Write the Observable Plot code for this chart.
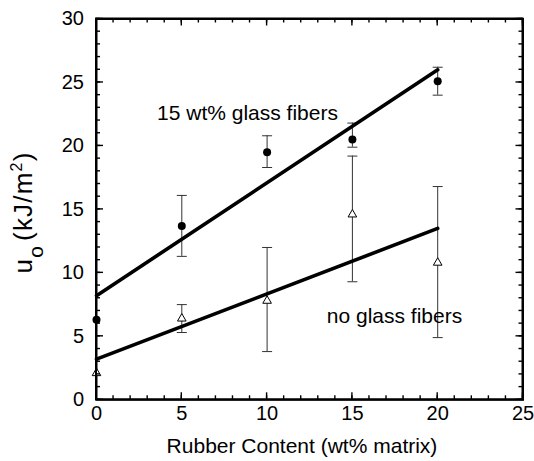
<!DOCTYPE html>
<html>
<head>
<meta charset="utf-8">
<script src="https://cdn.jsdelivr.net/npm/d3@7"></script>
<script src="https://cdn.jsdelivr.net/npm/@observablehq/plot@0.6"></script>
<style>
  html, body { margin: 0; padding: 0; background: #fff; }
  #chart svg { display: block; }
</style>
</head>
<body>
<div id="chart"></div>
<script>
// Rubber content (wt% matrix)
const rubber = [0, 5, 10, 15, 20];

// 15 wt% glass fibers (filled circles)
const glassMean = [6.3, 13.7, 19.5, 20.5, 25.1];
const glassLow  = [null, 11.3, 18.3, 19.9, 24.0];
const glassHigh = [null, 16.1, 20.8, 21.8, 26.2];

// no glass fibers (open triangles)
const noneMean = [2.1, 6.4, 7.8, 14.6, 10.8];
const noneLow  = [null, 5.3, 3.8, 9.3, 4.9];
const noneHigh = [null, 7.5, 12.0, 19.2, 16.8];

// fitted lines (end points)
const fitX = [0, 20];
const fitGlass = [8.2, 26.0];
const fitNone = [3.2, 13.5];

// ticks
const xMajor = [0, 5, 10, 15, 20, 25];
const yMajor = [0, 5, 10, 15, 20, 25, 30];
const xMinor = d3.range(0, 26);
const yMinor = d3.range(0, 31);

(function () {
const X0 = 0, X1 = 25, Y0 = 0, Y1 = 30;

const glass = rubber.map((x, i) => ({x, y: glassMean[i], lo: glassLow[i], hi: glassHigh[i]}));
const none = rubber.map((x, i) => ({x, y: noneMean[i], lo: noneLow[i], hi: noneHigh[i]}));
const errs = [...glass, ...none].filter(d => d.lo != null);
const caps = errs.flatMap(d => [{x: d.x, y: d.lo}, {x: d.x, y: d.hi}]);
const fitG = fitX.map((x, i) => ({x, y: fitGlass[i]}));
const fitN = fitX.map((x, i) => ({x, y: fitNone[i]}));

const capSymbol = {draw(ctx) { ctx.moveTo(-5, 0); ctx.lineTo(5, 0); }};

const W = 534, H = 461;
const mL = 96, mR = 11.5, mT = 18.5, mB = 61.7;

const font = "Liberation Sans, Arial, Helvetica, sans-serif";

const plot = Plot.plot({
  width: W,
  height: H,
  marginLeft: mL,
  marginRight: mR,
  marginTop: mT,
  marginBottom: mB,
  style: {fontFamily: font, fontSize: "20px"},
  x: {domain: [X0, X1]},
  y: {domain: [Y0, Y1]},
  marks: [
    // error bars
    Plot.ruleX(errs, {x: "x", y1: "lo", y2: "hi", stroke: "#333", strokeWidth: 1}),
    Plot.dot(caps, {x: "x", y: "y", symbol: capSymbol, stroke: "#333", strokeWidth: 1, fill: "none"}),
    // fits
    Plot.line(fitG, {x: "x", y: "y", stroke: "black", strokeWidth: 3.6}),
    Plot.line(fitN, {x: "x", y: "y", stroke: "black", strokeWidth: 3.6}),
    // frame
    Plot.frame({stroke: "black", strokeWidth: 2}),
    // points
    Plot.dot(glass, {x: "x", y: "y", r: 4, fill: "black", stroke: "none"}),
    Plot.dot(none, {x: "x", y: "y", r: 3.2, symbol: "triangle", fill: "white", stroke: "black", strokeWidth: 1}),
    // annotations
    Plot.text(["15 wt% glass fibers"], {x: 3.55, y: 22.6, text: d => d, textAnchor: "start", fontSize: 21, fill: "black"}),
    Plot.text(["no glass fibers"], {x: 13.5, y: 6.6, text: d => d, textAnchor: "start", fontSize: 21, fill: "black"}),
    // tick labels
    Plot.axisX(xMajor, {anchor: "bottom", tickSize: 0, tickPadding: 5.5, label: null, fontSize: 20, fill: "black"}),
    Plot.axisY(yMajor, {anchor: "left", tickSize: 0, tickPadding: 12.5, label: null, fontSize: 20, fill: "black"})
  ]
});

const svg = d3.select(plot);
const sx = plot.scale("x"), sy = plot.scale("y");
const pLeft = sx.apply(X0), pRight = sx.apply(X1), pBottom = sy.apply(Y0), pTop = sy.apply(Y1);

// inward ticks on all four sides, placed through Plot's scales
const tg = svg.append("g").attr("stroke", "black").attr("stroke-width", 1.4);
function addX(vals, len) {
  for (const v of vals) {
    const px = sx.apply(v);
    tg.append("line").attr("x1", px).attr("x2", px).attr("y1", pBottom).attr("y2", pBottom - len);
    tg.append("line").attr("x1", px).attr("x2", px).attr("y1", pTop).attr("y2", pTop + len);
  }
}
function addY(vals, len) {
  for (const v of vals) {
    const py = sy.apply(v);
    tg.append("line").attr("y1", py).attr("y2", py).attr("x1", pLeft).attr("x2", pLeft + len);
    tg.append("line").attr("y1", py).attr("y2", py).attr("x1", pRight).attr("x2", pRight - len);
  }
}
addX(xMinor, 4); addY(yMinor, 4);
addX(xMajor, 7); addY(yMajor, 7);
tg.append("rect").attr("x", pLeft).attr("y", pTop).attr("width", pRight - pLeft).attr("height", pBottom - pTop)
  .attr("fill", "none").attr("stroke-width", 2);

// x-axis title
svg.append("text")
  .attr("x", 302).attr("y", 453)
  .attr("text-anchor", "middle")
  .attr("font-family", font).attr("font-size", 21).attr("fill", "black")
  .text("Rubber Content (wt% matrix)");
// y-axis title with subscript and superscript
const yt = svg.append("text")
  .attr("transform", "translate(32,212.5) rotate(-90)")
  .attr("text-anchor", "middle")
  .attr("font-family", font).attr("font-size", 26).attr("fill", "black")
  .attr("letter-spacing", 1.2);
yt.append("tspan").text("u");
yt.append("tspan").attr("font-size", 21).attr("dy", 11).text("o");
yt.append("tspan").attr("dy", -11).attr("dx", 4).text("(kJ/m");
yt.append("tspan").attr("font-size", 16).attr("dy", -10).text("2");
yt.append("tspan").attr("dy", 10).text(")");

document.getElementById("chart").appendChild(plot);
})();
</script>
</body>
</html>
